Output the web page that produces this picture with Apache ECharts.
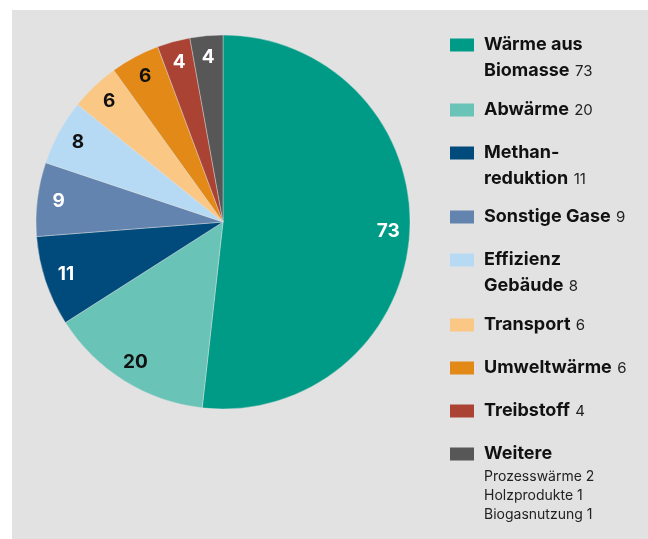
<!DOCTYPE html>
<html>
<head>
<meta charset="utf-8">
<script src="https://cdn.jsdelivr.net/npm/echarts@6/dist/echarts.min.js"></script>
<style>
  html, body { margin: 0; padding: 0; background: #fff; }
  #main { width: 648px; height: 539px; }
</style>
</head>
<body>
<div id="main"></div>
<script>
// Daten
var names = ['Wärme aus\nBiomasse', 'Abwärme', 'Methan-\nreduktion', 'Sonstige Gase',
    'Effizienz\nGebäude', 'Transport', 'Umweltwärme', 'Treibstoff', 'Weitere'];
var values = [73, 20, 11, 9, 8, 6, 6, 4, 4];
var subNames = ['Prozesswärme', 'Holzprodukte', 'Biogasnutzung'];
var subValues = [2, 1, 1];

// Farben
var colors = ['#009b86', '#6ac3b7', '#004b7b', '#6384ae', '#b6daf3',
    '#fac784', '#e38917', '#aa4333', '#575757'];
var labelColors = ['#fff', '#111', '#fff', '#fff', '#111', '#111', '#111', '#fff', '#fff'];

var FONT = 'Inter, Roboto, sans-serif';
var iconTops = [36, 101, 144, 208, 251, 316, 359, 402, 445];  // obere Kante der Kästchen

var pieData = names.map(function (n, i) {
    return { name: n, value: values[i], itemStyle: { color: colors[i] } };
});
var labelData = names.map(function (n, i) {
    return {
        name: n, value: values[i],
        itemStyle: { color: 'transparent' },
        label: { color: labelColors[i] }
    };
});

function legendText(name) {
    var idx = names.indexOf(name);
    var lines = name.split('\n');
    var out = lines.map(function (l, k) {
        return '{b|' + l + '}' + (k === lines.length - 1 && name !== 'Weitere' ? ' {n|' + values[idx] + '}' : '');
    }).join('\n');
    if (name === 'Weitere') {
        out += subNames.map(function (s, k) {
            return '\n{s|' + s + ' ' + subValues[k] + '}';
        }).join('');
    }
    return out;
}

var LH = 26, SLH = 19;
var legends = names.map(function (n, i) {
    var below = (n.split('\n').length - 1) * LH;
    if (n === 'Weitere') below = subNames.length * SLH;
    return {
        data: [n],
        orient: 'vertical',
        left: 448,
        top: iconTops[i],
        padding: 0,
        icon: 'rect',
        itemWidth: 26,
        itemHeight: 15,
        itemGap: 0,
        selectedMode: false,
        formatter: legendText,
        textStyle: {
            padding: [below, 0, 0, 4],
            rich: {
                b: { fontSize: 18, fontWeight: 'bold', color: '#111', lineHeight: LH, fontFamily: FONT },
                n: { fontSize: 15, color: '#222', lineHeight: LH, fontFamily: FONT, padding: [0, 0, 0, 2] },
                s: { fontSize: 14, color: '#222', lineHeight: SLH, fontFamily: FONT }
            }
        }
    };
});

var chart = echarts.init(document.getElementById('main'));
chart.setOption({
    backgroundColor: '#fff',
    animation: false,
    graphic: [{
        type: 'rect', left: 12, top: 10, z: -1,
        shape: { width: 636, height: 529 },
        style: { fill: '#e2e2e2' }
    }],
    legend: legends,
    series: [{
        type: 'pie',
        center: [223, 222],
        radius: 187,
        startAngle: 90,
        label: { show: false },
        labelLine: { show: false },
        itemStyle: { borderColor: '#e2e2e2', borderWidth: 0.4 },
        emphasis: { disabled: true },
        data: pieData
    }, {
        // nur für die Beschriftung
        type: 'pie',
        center: [223, 222],
        radius: [138, 187],
        startAngle: 90,
        silent: true,
        legendHoverLink: false,
        label: {
            show: true, position: 'inside',
            formatter: '{c}', fontSize: 19, fontWeight: 'bold', fontFamily: FONT
        },
        labelLine: { show: false },
        emphasis: { disabled: true },
        data: labelData
    }]
});
</script>
</body>
</html>
